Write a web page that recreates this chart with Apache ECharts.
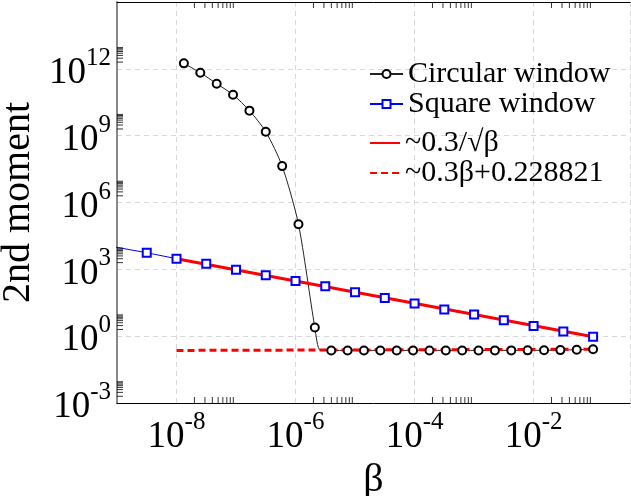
<!DOCTYPE html>
<html>
<head>
<meta charset="utf-8">
<script src="https://cdn.jsdelivr.net/npm/echarts@6/dist/echarts.min.js"></script>
<style>
    html, body { margin: 0; padding: 0; background: #fff; }
    #chart { width: 631px; height: 496px; }
</style>
</head>
<body>
<div id="chart"></div>
<script>
// circular window: beta and 2nd moment (one extra point at the bend, drawn without marker)
var circleBeta = [1.33e-8, 2.51e-8, 4.73e-8, 8.91e-8, 1.68e-7, 3.16e-7, 5.96e-7, 1.12e-6, 2.11e-6, 2.6e-6,
    3.98e-6, 7.5e-6, 1.41e-5, 2.66e-5, 5.01e-5, 9.44e-5, 1.78e-4, 3.35e-4, 6.31e-4, 1.19e-3,
    2.24e-3, 4.22e-3, 7.94e-3, 1.5e-2, 2.82e-2, 5.31e-2, 0.1];
var circleMoment = [1.76e12, 6.7e11, 2.15e11, 6.9e10, 1.33e10, 1.5e9, 4.3e7, 1.06e5, 2.45, 0.232,
    0.229, 0.229, 0.229, 0.229, 0.229, 0.229, 0.229, 0.229, 0.229, 0.229,
    0.23, 0.23, 0.231, 0.233, 0.237, 0.245, 0.259];
var circleNoMarker = [9];

// square window (first point lies left of the frame, only its line shows)
var squareBeta = [3.16e-10, 3.16e-9, 1e-8, 3.16e-8, 1e-7, 3.16e-7, 1e-6, 3.16e-6, 1e-5,
    3.16e-5, 1e-4, 3.16e-4, 1e-3, 3.16e-3, 1e-2, 3.16e-2, 0.1];
var squareMoment = [16900, 5560, 3000, 1790, 964, 536, 298, 173, 93,
    51.7, 29, 15.7, 9.35, 5.2, 2.89, 1.62, 0.93];

// fits
var sqrtFitBeta = [1e-8, 0.1];
var sqrtFitMoment = [3000, 0.95];
var linFitBeta = [1e-8, 0.1];
var linFitMoment = [0.2288, 0.2588];

// axis ranges and minor tick decades
var X_MIN = 1e-9, X_MAX = 0.417;
var Y_MIN = 1e-3, Y_MAX = 1e15;
var minorMult = [2, 3, 4, 5, 6, 7, 8, 9];
var xMinorDecades = [1e-8, 1e-6, 1e-4, 1e-2];
var yMinorDecades = [1e-3, 1, 1e3, 1e6, 1e9, 1e12];

var FONT = 'Liberation Serif';

function zip(xs, ys) {
    return xs.map(function (x, i) { return [x, ys[i]]; });
}

// label "10^e"; step = label every step decades
function powLabel(v, step, maxExp) {
    var lg = Math.log10(v);
    var e = Math.round(lg);
    if (Math.abs(lg - e) > 1e-6) return '';
    if (e % step !== 0 || e >= maxExp) return '';
    return '{b|10}{s|' + e + '}';
}

var labelRich = {
    b: { fontFamily: FONT, fontSize: 37, lineHeight: 46, verticalAlign: 'bottom', color: '#000' },
    s: { fontFamily: FONT, fontSize: 25, lineHeight: 25, verticalAlign: 'top', color: '#000' }
};

var gridLine = { show: true, lineStyle: { color: '#d8d8d8', type: [5, 4], width: 1 } };

var xMinor = [], yMinor = [];
xMinorDecades.forEach(function (d) { minorMult.forEach(function (m) { xMinor.push(m * d); }); });
yMinorDecades.forEach(function (d) { minorMult.forEach(function (m) { yMinor.push(m * d); }); });

function tickSeries(data, size, offset) {
    return {
        type: 'scatter', data: data, symbol: 'rect', symbolSize: size, symbolOffset: offset,
        itemStyle: { color: '#000' }, silent: true, clip: false, z: 6, xAxisIndex: 0, yAxisIndex: 0
    };
}

var circleData = zip(circleBeta, circleMoment).map(function (p, i) {
    return circleNoMarker.indexOf(i) >= 0 ? { value: p, symbol: 'none' } : p;
});

var legendText = { fontFamily: FONT, fontSize: 30, lineHeight: 30, color: '#000' };

var chart = echarts.init(document.getElementById('chart'));
chart.setOption({
    animation: false,
    grid: { left: 117, right: 1, top: 2, bottom: 93, containLabel: false, outerBoundsMode: 'none' },
    legend: [
        {
            data: ['Circular window', 'Square window'],
            orient: 'vertical', left: 369, top: 59, padding: 0, itemGap: 0,
            itemWidth: 33, itemHeight: 10, textStyle: legendText
        },
        {
            data: [
                { name: '~0.3/\u221A\u03B2', itemStyle: { opacity: 0 } },
                { name: '~0.3\u03B2+0.228821', itemStyle: { opacity: 0 } }
            ],
            orient: 'vertical', left: 369, top: 128, padding: 0, itemGap: 0,
            itemWidth: 30, itemHeight: 10, textStyle: legendText
        }
    ],
    xAxis: [
        {
            type: 'log', logBase: 100, min: X_MIN, max: X_MAX,
            name: '\u03B2', nameLocation: 'middle', nameGap: 52,
            nameTextStyle: { fontFamily: FONT, fontSize: 40, color: '#000' },
            axisLine: { lineStyle: { color: '#000', width: 1 } },
            axisTick: { show: false },
            axisLabel: { margin: 7, formatter: function (v) { return powLabel(v, 2, 0); }, rich: labelRich },
            splitLine: gridLine
        },
        {
            type: 'log', position: 'top', min: X_MIN, max: X_MAX,
            axisLine: { show: true, lineStyle: { color: '#000', width: 1 } },
            axisTick: { show: false }, axisLabel: { show: false }, splitLine: { show: false }
        }
    ],
    yAxis: {
        type: 'log', logBase: 1000, min: Y_MIN, max: Y_MAX,
        name: '2nd moment', nameLocation: 'middle', nameGap: 68,
        nameTextStyle: { fontFamily: FONT, fontSize: 40, color: '#000' },
        axisLine: { show: true, lineStyle: { color: '#888', width: 2 } },
        axisTick: { show: false },
        axisLabel: { margin: 6, formatter: function (v) { return powLabel(v, 3, 15); }, rich: labelRich },
        splitLine: gridLine
    },
    series: [
        {
            name: 'Circular window', type: 'line', data: circleData,
            smooth: 0.25, symbol: 'emptyCircle', symbolSize: 8,
            lineStyle: { color: '#222', width: 1 },
            itemStyle: { color: '#000', borderColor: '#000', borderWidth: 1 }
        },
        {
            name: 'Square window', type: 'line', data: zip(squareBeta, squareMoment),
            symbol: 'emptyRect', symbolSize: 8,
            lineStyle: { color: '#0000ff', width: 1 },
            itemStyle: { color: '#0000ff', borderColor: '#0000ff', borderWidth: 1 }
        },
        {
            name: '~0.3/\u221A\u03B2', type: 'line', data: zip(sqrtFitBeta, sqrtFitMoment),
            symbol: 'none', lineStyle: { color: '#ff0000', width: 3 },
            itemStyle: { color: '#ff0000' }
        },
        {
            name: '~0.3\u03B2+0.228821', type: 'line', data: zip(linFitBeta, linFitMoment),
            symbol: 'none', lineStyle: { color: '#ff0000', width: 3, type: [7, 4] },
            itemStyle: { color: '#ff0000' }
        },
        tickSeries(xMinor.map(function (v) { return [v, Y_MIN]; }), [1, 6], [0, -3]),
        tickSeries(xMinor.map(function (v) { return [v, Y_MAX]; }), [1, 6], [0, 3]),
        tickSeries(yMinor.map(function (v) { return [X_MIN, v]; }), [6, 1], [3, 0])
    ]
});
</script>
</body>
</html>
